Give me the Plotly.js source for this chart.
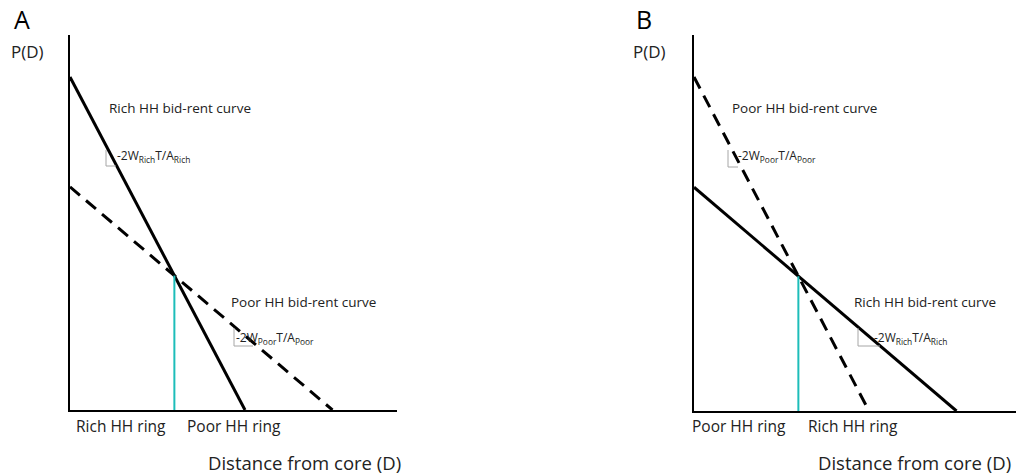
<!DOCTYPE html>
<html>
<head>
<meta charset="utf-8">
<script src="https://cdn.plot.ly/plotly-3.0.1.min.js"></script>
<style>html,body{margin:0;padding:0;background:#fff;}#chart{width:1016px;height:475px;}</style>
</head>
<body>
<div id="chart"></div>
<script>
// Panel A: rich households have the steeper bid-rent curve
const richA_x = [0, 10];
const richA_y = [10, 0];
const poorA_x = [0, 15];
const poorA_y = [6.7, 0];
// Panel B: poor households have the steeper bid-rent curve
const richB_x = [0, 15];
const richB_y = [6.7, 0];
const poorB_x = [0, 10];
const poorB_y = [10, 0];

const panelLabels = ['A', 'B'];
const yTitle = 'P(D)';
const xTitle = 'Distance from core (D)';
const ringLabelsA = ['Rich HH ring', 'Poor HH ring'];
const ringLabelsB = ['Poor HH ring', 'Rich HH ring'];
const curveLabels = ['Rich HH bid-rent curve', 'Poor HH bid-rent curve'];
const slopeRich = '-2W<sub>Rich</sub>T/A<sub>Rich</sub>';
const slopePoor = '-2W<sub>Poor</sub>T/A<sub>Poor</sub>';

function intersect(ax, ay, bx, by) {
  const m1 = (ay[1] - ay[0]) / (ax[1] - ax[0]);
  const m2 = (by[1] - by[0]) / (bx[1] - bx[0]);
  const x = (by[0] - ay[0]) / (m1 - m2);
  return [x, ay[0] + m1 * x];
}
const iA = intersect(richA_x, richA_y, poorA_x, poorA_y);
const iB = intersect(richB_x, richB_y, poorB_x, poorB_y);

const W = 1016, H = 475;
const px = v => v / W;
const py = v => 1 - v / H;

const solid = {color: '#000', width: 3};
const dashed = {color: '#000', width: 3, dash: '13px,8px'};
const teal = {color: '#1DBDB9', width: 2};

const data = [
  {x: richA_x, y: richA_y, mode: 'lines', line: solid, xaxis: 'x', yaxis: 'y', hoverinfo: 'skip'},
  {x: poorA_x, y: poorA_y, mode: 'lines', line: dashed, xaxis: 'x', yaxis: 'y', hoverinfo: 'skip'},
  {x: [iA[0], iA[0]], y: [0, iA[1]], mode: 'lines', line: teal, xaxis: 'x', yaxis: 'y', hoverinfo: 'skip'},
  {x: richB_x, y: richB_y, mode: 'lines', line: solid, xaxis: 'x2', yaxis: 'y2', hoverinfo: 'skip'},
  {x: poorB_x, y: poorB_y, mode: 'lines', line: dashed, xaxis: 'x2', yaxis: 'y2', hoverinfo: 'skip'},
  {x: [iB[0], iB[0]], y: [0, iB[1]], mode: 'lines', line: teal, xaxis: 'x2', yaxis: 'y2', hoverinfo: 'skip'}
];

const axBase = {showgrid: false, zeroline: false, showticklabels: false, ticks: '', showline: true, linecolor: '#000', linewidth: 2, fixedrange: true};

const font = 'Open Sans, Noto Sans, sans-serif';
function txt(x, y, text, size, color, anchor, yanchor) {
  return {xref: 'paper', yref: 'paper', x: px(x), y: py(y), text: text, showarrow: false,
    xanchor: anchor || 'left', yanchor: yanchor || 'middle', font: {family: font, size: size, color: color || '#222'}};
}

const annotations = [
  txt(12, 0, panelLabels[0], 25, '#000', 'left', 'top'),
  txt(634, 0, panelLabels[1], 25, '#000', 'left', 'top'),
  txt(9, 52, yTitle, 17),
  txt(631, 52, yTitle, 17),
  txt(107, 108, curveLabels[0], 13.5),
  txt(115, 156, slopeRich, 12),
  txt(229, 302, curveLabels[1], 13.5),
  txt(234, 338, slopePoor, 12),
  txt(74, 426, ringLabelsA[0], 15.5),
  txt(185, 426, ringLabelsA[1], 15.5),
  txt(403, 462, xTitle, 18.5, '#222', 'right'),
  txt(730, 108, curveLabels[1], 13.5),
  txt(736, 156, slopePoor, 12),
  txt(852, 302, curveLabels[0], 13.5),
  txt(872, 338, slopeRich, 12),
  txt(690, 426, ringLabelsB[0], 15.5),
  txt(806, 426, ringLabelsB[1], 15.5),
  txt(1013, 462, xTitle, 18.5, '#222', 'right')
];

function bracket(x, y0, y1, x1) {
  const ln = {color: '#a6a6a6', width: 1};
  return [
    {type: 'line', xref: 'paper', yref: 'paper', x0: px(x), x1: px(x), y0: py(y0), y1: py(y1), line: ln},
    {type: 'line', xref: 'paper', yref: 'paper', x0: px(x), x1: px(x1), y0: py(y1), y1: py(y1), line: ln}
  ];
}
const shapes = [].concat(
  bracket(106, 150, 166, 116),
  bracket(234, 328, 346, 253),
  bracket(728, 150, 167, 738),
  bracket(858, 328, 346, 880)
);

const layout = {
  width: W, height: H,
  margin: {l: 0, r: 0, t: 0, b: 0},
  paper_bgcolor: '#fff', plot_bgcolor: '#fff',
  showlegend: false,
  xaxis: Object.assign({}, axBase, {domain: [px(70), px(397)], range: [0, 327 / 17.5], anchor: 'y'}),
  yaxis: Object.assign({}, axBase, {domain: [py(410), py(35)], range: [0, 375 / 33.3], anchor: 'x'}),
  xaxis2: Object.assign({}, axBase, {domain: [px(694), 1], range: [0, 322 / 17.5], anchor: 'y2'}),
  yaxis2: Object.assign({}, axBase, {domain: [py(411), py(35)], range: [0, 376 / 33.4], anchor: 'x2'}),
  annotations: annotations,
  shapes: shapes
};

Plotly.newPlot('chart', data, layout, {staticPlot: true, displayModeBar: false});
</script>
</body>
</html>
